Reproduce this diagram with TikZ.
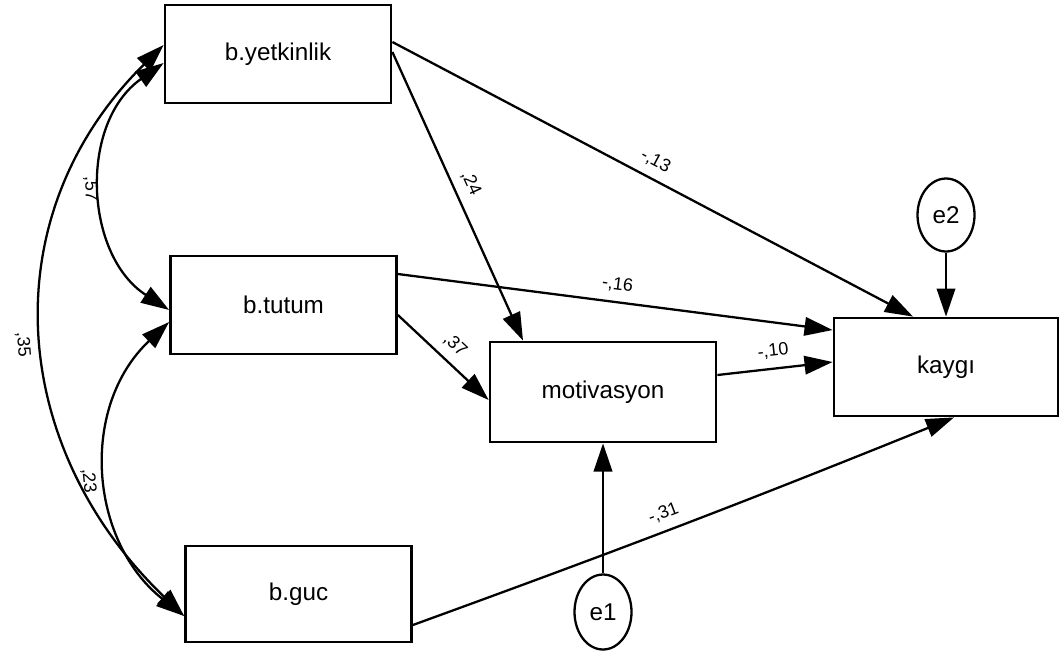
\documentclass[tikz,border=0pt]{standalone}
\usepackage{fontspec}
\setmainfont{Liberation Sans}
\usetikzlibrary{arrows.meta,shapes.geometric}
\begin{document}
\begin{tikzpicture}[x=0.02cm,y=-0.02cm,
  box/.style={draw, line width=1.6pt, minimum width=4.52cm, minimum height=1.96cm, inner sep=0pt, font=\fontsize{13.8}{16}\selectfont},
  err/.style={draw, ellipse, line width=1.3pt, minimum width=1.14cm, minimum height=1.46cm, inner sep=0pt, font=\fontsize{13.8}{16}\selectfont},
  arr/.style={line width=1.3pt, -{Triangle[length=16pt,width=10.5pt]}},
  cov/.style={line width=1.3pt, {Triangle[length=16pt,width=10.5pt]}-{Triangle[length=16pt,width=10.5pt]}},
  lab/.style={font=\fontsize{10.2}{12}\selectfont, sloped, inner sep=2pt}
]
\useasboundingbox (0,0) rectangle (1060,653);
\node[box] (yet) at (278,54) {b.yetkinlik};
\node[box] (tut) at (283.5,305) {b.tutum};
\node[box, minimum height=1.92cm] (guc) at (298.5,594) {b.guc};
\node[box, minimum height=2cm] (mot) at (603,392) {motivasyon};
\node[box, minimum width=4.48cm] (kay) at (946,367) {kaygı};
\node[err] (e2) at (946,215) {e2};
\node[err, minimum height=1.5cm] (e1) at (603,612) {e1};

\draw[arr] ([yshift=0.24cm]yet.east) -- node[lab,above=3pt,pos=0.49]{-,13} ([xshift=-0.66cm]kay.north);
\draw[arr] ([yshift=0.04cm]yet.east) -- node[lab,above=3pt,pos=0.48]{,24} ([xshift=-1.6cm]mot.north);
\draw[arr] ([yshift=0.62cm]tut.east) -- node[lab,above=3pt,pos=0.5]{-,16} ([yshift=0.74cm]kay.west);
\draw[arr] ([yshift=-0.2cm]tut.east) -- node[lab,above=3pt,pos=0.5]{,37} ([yshift=-0.16cm]mot.west);
\draw[arr] ([yshift=0.34cm]mot.east) -- node[lab,above=3pt,pos=0.5]{-,10} ([yshift=0.1cm]kay.west);
\draw[arr] ([yshift=-0.62cm]guc.east) to[bend right=1] node[lab,above=3pt,pos=0.47]{-,31} ([xshift=0.16cm]kay.south);
\draw[arr] (e1) -- (mot);
\draw[arr] (e2) -- (kay);

\draw[cov] ([yshift=-0.18cm]yet.west) .. controls +(-85,60) and +(-85,-55) .. node[lab,below,pos=0.5]{,57} ([yshift=-0.1cm]tut.west);
\draw[cov] ([yshift=-0.34cm]tut.west) .. controls +(-90,85) and +(-95,-75) .. node[lab,below=4pt,pos=0.52]{,23} ([yshift=-0.44cm]guc.west);
\draw[cov] ([yshift=0.18cm]yet.west) .. controls +(-172,170) and +(-177,-170) .. node[lab,below=5pt,pos=0.52]{,35} ([yshift=-0.44cm]guc.west);
\end{tikzpicture}
\end{document}
